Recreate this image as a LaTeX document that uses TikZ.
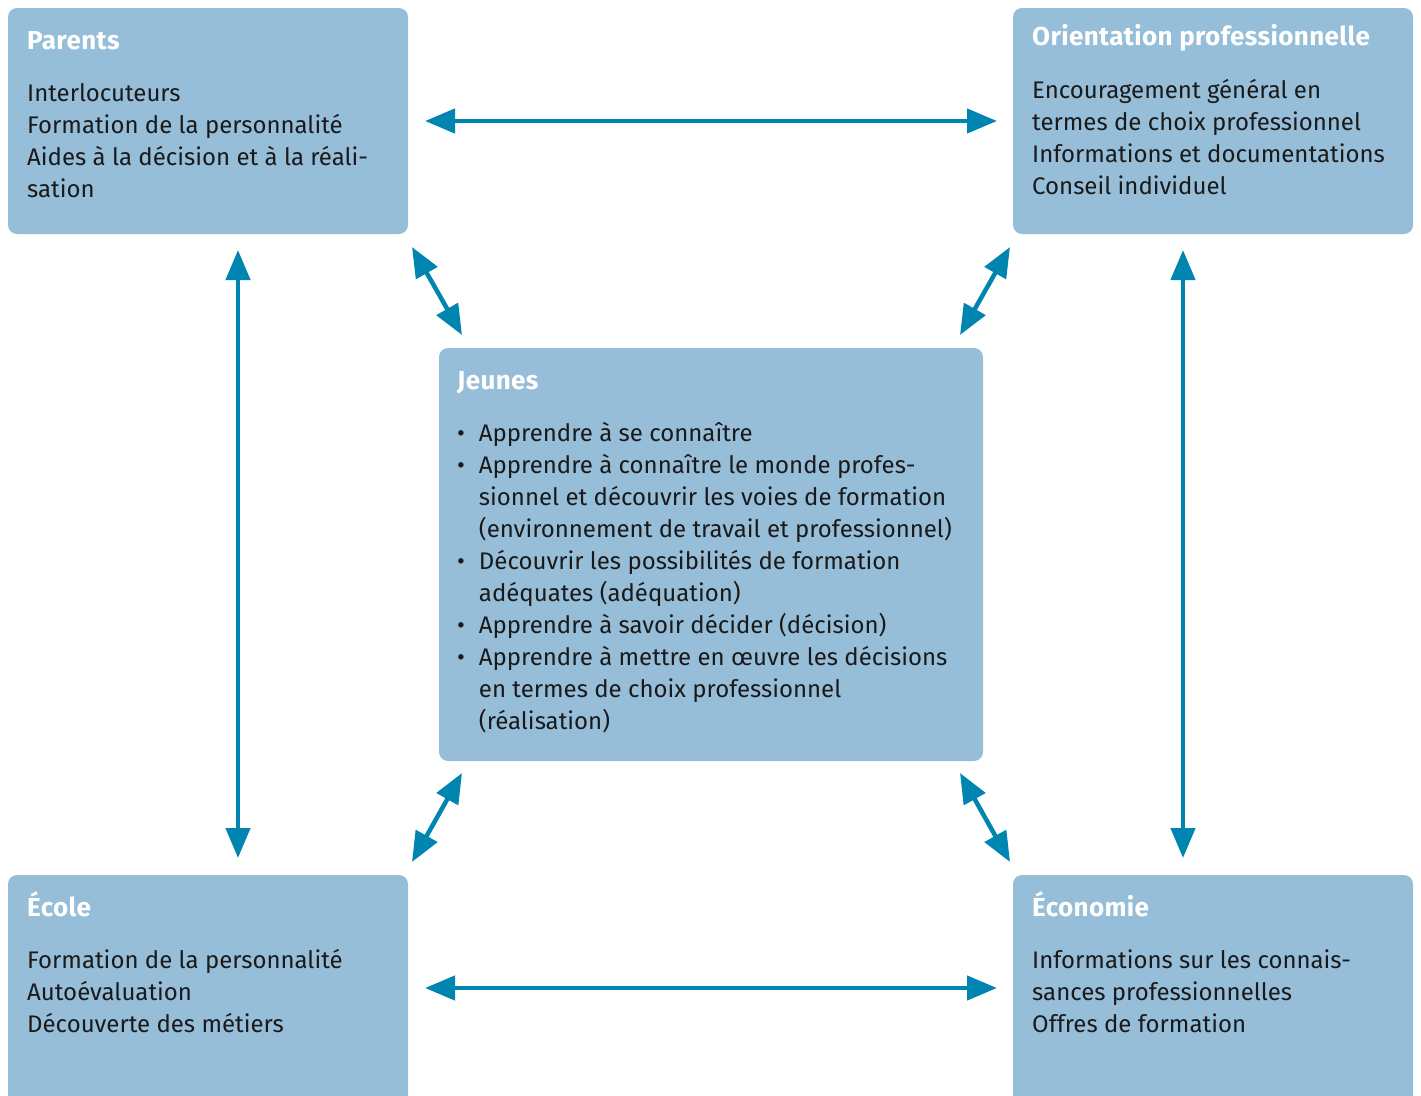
\documentclass[tikz,border=0pt]{standalone}
\usepackage{fontspec}
\setmainfont{Fira Sans}
\newfontfamily\titlefont[LetterSpace=1.5]{Fira Sans}
\usetikzlibrary{arrows.meta}
\definecolor{boxblue}{HTML}{97BED8}
\definecolor{arrowblue}{HTML}{0085B0}
\definecolor{txt}{HTML}{1A1A1A}
\tikzset{
  box/.style={fill=boxblue, draw=none, rounded corners=9pt},
  title/.style={anchor=base west, inner sep=0pt, text=white, font=\titlefont\fontsize{26}{32}\selectfont\bfseries},
  body/.style={anchor=base west, inner sep=0pt, text=txt, font=\fontsize{24}{32}\selectfont},
  link/.style={arrowblue, line width=4.5pt, {Triangle[length=30pt,width=24pt]}-{Triangle[length=30pt,width=24pt]}},
}
\begin{document}
\begin{tikzpicture}[x=1pt,y=-1pt]
\useasboundingbox (0,0) rectangle (1421,1095);
\begin{scope}
\clip (0,0) rectangle (1421,1095);
% boxes
\path[box] (8,8) rectangle (408,234) node[coordinate] (parentsbox) {};
\path[box] (1013,8) rectangle (1413,234) node[coordinate] (orientbox) {};
\path[box] (439,348) rectangle (983,761) node[coordinate] (jeunesbox) {};
\path[box] (8,875) rectangle (408,1120) node[coordinate] (ecolebox) {};
\path[box] (1013,875) rectangle (1413,1120) node[coordinate] (ecobox) {};
\end{scope}
% titles
\node[title] (tparents) at (27,49) {Parents};
\node[title] (torient) at (1032,45) {Orientation professionnelle};
\node[title] (tjeunes) at (457,389) {Jeunes};
\node[title] (tecole) at (27,916) {École};
\node[title] (teco) at (1032,916) {Économie};
% bodies
\node[body] (bparents) at (27,101) {\begin{tabular}[t]{@{}l@{}}
Interlocuteurs\\
Formation de la personnalité\\
Aides à la décision et à la réali-\\
sation
\end{tabular}};
\node[body] (borient) at (1032,98) {\begin{tabular}[t]{@{}l@{}}
Encouragement général en\\
termes de choix professionnel\\
Informations et documentations\\
Conseil individuel
\end{tabular}};
\node[body] (bjeunes) at (457,441) {\begin{tabular}[t]{@{}l@{\hspace{14pt}}l@{}}
\textbullet & Apprendre à se connaître\\
\textbullet & Apprendre à connaître le monde profes-\\
 & sionnel et découvrir les voies de formation\\
 & (environnement de travail et professionnel)\\
\textbullet & Découvrir les possibilités de formation\\
 & adéquates (adéquation)\\
\textbullet & Apprendre à savoir décider (décision)\\
\textbullet & Apprendre à mettre en œuvre les décisions\\
 & en termes de choix professionnel\\
 & (réalisation)
\end{tabular}};
\node[body] (becole) at (27,968) {\begin{tabular}[t]{@{}l@{}}
Formation de la personnalité\\
Autoévaluation\\
Découverte des métiers
\end{tabular}};
\node[body] (beco) at (1032,968) {\begin{tabular}[t]{@{}l@{}}
Informations sur les connais-\\
sances professionnelles\\
Offres de formation
\end{tabular}};
% arrow end points
\coordinate (h1a) at (425,121);
\coordinate (h1b) at (997,121);
\coordinate (h2a) at (425,988);
\coordinate (h2b) at (997,988);
\coordinate (v1a) at (238,250);
\coordinate (v1b) at (238,858);
\coordinate (v2a) at (1183,250);
\coordinate (v2b) at (1183,858);
\coordinate (d1a) at (412,247);
\coordinate (d1b) at (462,335);
\coordinate (d2a) at (1010,247);
\coordinate (d2b) at (960,335);
\coordinate (d3a) at (462,773);
\coordinate (d3b) at (412,862);
\coordinate (d4a) at (960,773);
\coordinate (d4b) at (1010,862);
% arrows
\draw[link] (h1a) -- (h1b);
\draw[link] (h2a) -- (h2b);
\draw[link] (v1a) -- (v1b);
\draw[link] (v2a) -- (v2b);
\draw[link] (d1a) -- (d1b);
\draw[link] (d2a) -- (d2b);
\draw[link] (d3a) -- (d3b);
\draw[link] (d4a) -- (d4b);
\end{tikzpicture}
\end{document}
